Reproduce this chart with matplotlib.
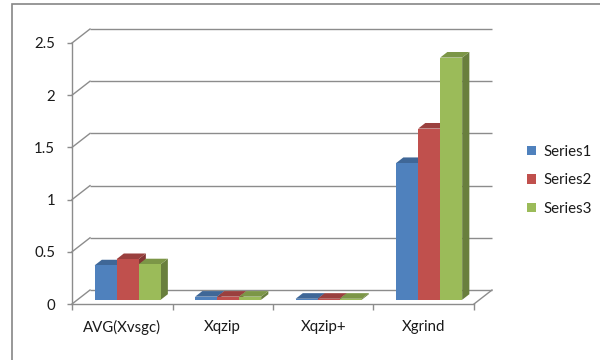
import matplotlib
matplotlib.use("Agg")
import matplotlib.pyplot as plt
from matplotlib.patches import Polygon, Rectangle, Patch
from matplotlib.colors import to_rgb

categories = ["AVG(Xvsgc)", "Xqzip", "Xqzip+", "Xgrind"]
series_names = ["Series1", "Series2", "Series3"]
series1 = [0.33, 0.03, 0.01, 1.31]
series2 = [0.39, 0.03, 0.01, 1.64]
series3 = [0.34, 0.03, 0.01, 2.32]
yticks = [0, 0.5, 1, 1.5, 2, 2.5]

series = [series1, series2, series3]
colors = ["#4F81BD", "#C0504D", "#9BBB59"]
grid_color = "#8C8C8C"
text_color = "#1a1a1a"
FS = 10.8

plt.rcParams["font.family"] = ["Lato", "DejaVu Sans"]

fig = plt.figure(figsize=(6, 3.6), dpi=100)

# oblique depth of the plot box, in data units
DX, DY = 0.179, 0.134
ymax = yticks[-1]
ncat = len(categories)

W, H = 600, 360
ax = fig.add_axes([72 / W, 56 / H, (ncat + DX) * 100.5 / W, (ymax + DY) * 104.4 / H])
ax.set_xlim(0, ncat + DX)
ax.set_ylim(0, ymax + DY)
ax.patch.set_alpha(0)

for s in ["top", "right"]:
    ax.spines[s].set_visible(False)
for s in ["left", "bottom"]:
    ax.spines[s].set_color(grid_color)
    ax.spines[s].set_linewidth(1.0)
ax.spines["left"].set_bounds(0, ymax)
ax.spines["bottom"].set_bounds(0, ncat)

ax.set_yticks(yticks)
ax.set_yticklabels([f"{t:g}" for t in yticks])
ax.set_xticks(range(ncat + 1))
ax.set_xticklabels([""] * (ncat + 1))
ax.set_xticks([i + 0.5 for i in range(ncat)], minor=True)
ax.set_xticklabels(categories, minor=True)
ax.tick_params(axis="y", length=3.6, width=1, color=grid_color, pad=8.5,
               labelsize=FS, labelcolor=text_color)
ax.tick_params(axis="x", which="major", length=4, width=1, color=grid_color)
ax.tick_params(axis="x", which="minor", length=0, pad=11.5,
               labelsize=FS, labelcolor=text_color)

# back wall gridlines and side wall diagonals
for t in yticks:
    ax.plot([DX, ncat + DX], [t + DY, t + DY], color=grid_color, lw=1.0,
            zorder=1, clip_on=False, solid_capstyle="butt")
    ax.plot([0, DX], [t, t + DY], color=grid_color, lw=1.0, zorder=1,
            clip_on=False)
# right edge of the floor
ax.plot([ncat, ncat + DX], [0, DY], color=grid_color, lw=1.0, zorder=1,
        clip_on=False)


def shade(c, f):
    r, g, b = to_rgb(c)
    return (r * f, g * f, b * f)


# 3-D bars: front face via ax.bar, top and side faces as parallelograms
group = 0.657
bw = group / len(series)
gap = (1 - group) / 2
front = 0.3
depth = 0.4
x0, y0 = front * DX, front * DY
dxb, dyb = depth * DX, depth * DY

z = 2
for i in range(ncat):
    for j, vals in enumerate(series):
        v = vals[i]
        left = i + gap + j * bw + x0
        top = y0 + v
        c = colors[j]
        ax.add_patch(Polygon([(left + bw, y0), (left + bw + dxb, y0 + dyb),
                              (left + bw + dxb, top + dyb), (left + bw, top)],
                             closed=True, facecolor=shade(c, 0.68),
                             edgecolor="none", zorder=z))
        ax.add_patch(Polygon([(left, top), (left + dxb, top + dyb),
                              (left + bw + dxb, top + dyb), (left + bw, top)],
                             closed=True, facecolor=shade(c, 0.8),
                             edgecolor="none", zorder=z))
        ax.bar(left, v, width=bw, bottom=y0, align="edge", color=c,
               edgecolor="none", zorder=z + 1)
        z += 2

handles = [Patch(facecolor=c, edgecolor="none") for c in colors]
fig.legend(handles, series_names, loc="upper left",
           bbox_to_anchor=(527 / W, 1 - 145 / H), frameon=False,
           fontsize=FS, handlelength=0.6, handleheight=0.6,
           handletextpad=0.5, labelspacing=0.96, borderaxespad=0,
           borderpad=0, labelcolor=text_color)

# chart area frame
fig.patches.append(Rectangle((12 / W, -0.05), 1.0, 1 - 4 / H + 0.05,
                             transform=fig.transFigure, fill=False,
                             edgecolor="#868686", lw=1.2, zorder=0))

fig.savefig("out.png", dpi=100, facecolor="white")
